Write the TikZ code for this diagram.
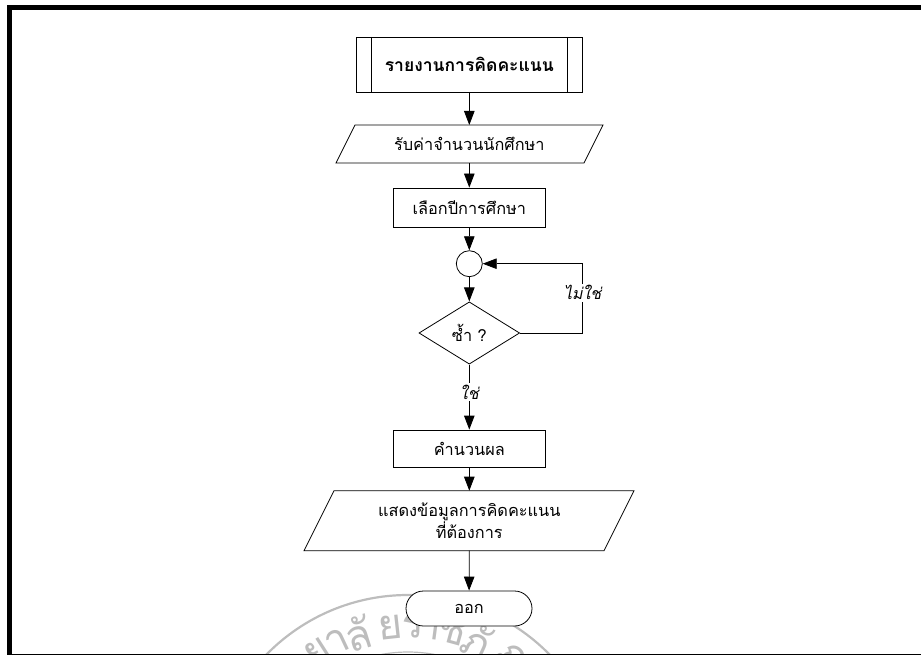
\documentclass[tikz,border=0pt]{standalone}
\usepackage{fontspec}
\usetikzlibrary{arrows.meta,calc,shapes,positioning}
\newfontfamily\thaifont[Script=Thai]{Loma}
\newfontfamily\thaislant[Script=Thai,FakeSlant=0.2]{Loma}
\definecolor{sealgray}{gray}{0.74}
\tikzset{
	every node/.style={font=\thaifont\fontsize{16.3}{21.5}\selectfont,inner sep=0},
	flow/.style={-{Triangle[length=14pt,width=10.5pt]},line width=.8pt},
	plain/.style={line width=.8pt},
	lbl/.style={font=\thaislant\fontsize{16}{21.5}\selectfont,fill=white,inner sep=2}
}
\begin{document}
\begin{tikzpicture}[x=1pt,y=-1pt,line width=.8pt]
\useasboundingbox (0,0) rectangle (921,655);
% frame
\fill (7,5) rectangle (921,10);
\fill (7,5) rectangle (12,655);
\draw[line width=.8pt] (12,654.3) -- (921,654.3);

% seal
\begin{scope}
\clip (12,10) rectangle (921,653.5);
\coordinate (seal) at (408,793);
\draw[sealgray,line width=2.2pt] (seal) circle (198);
\draw[sealgray,line width=1.2pt] (seal) circle (141);
\foreach \ch/\xpos [count=\i] in {ย/318,า/337,ลั/358,ย/390,ร/413,า/430,ช/452,ภั/477,ฏ/509}
	\node[sealgray,rotate={-asin((\xpos-408)/167)},font=\thaifont\fontsize{42}{42}\selectfont] (s\i) at ($(seal)+({\xpos-408},{-167*cos(asin((\xpos-408)/167))})$) {\ch};
\end{scope}

% shapes
\node[font=\thaifont\fontsize{17.5}{21}\selectfont\bfseries] (title) at (469.3,64.5) {รายงานการคิดคะแนน};
\coordinate (t1) at (356,37);
\coordinate (t2) at (582.7,92);
\draw[plain] (t1) rectangle (t2);
\draw[plain] (371.3,37) -- (371.3,92);
\draw[plain] (567.3,37) -- (567.3,92);
\coordinate (titleb) at (469.3,92);

\node (input) at (469.3,144) {รับค่าจำนวนนักศึกษา};
\draw[plain] (355,125) -- (603,125) -- (584,163) -- (336,163) -- cycle;
\coordinate (inputt) at (469.3,125);
\coordinate (inputb) at (469.3,163);

\node[draw,minimum width=151.3,minimum height=39] (year) at (469.3,207.5) {เลือกปีการศึกษา};

\node[draw,circle,minimum size=26] (join) at (469.3,263.7) {};

\node[draw,diamond,minimum width=100.7,minimum height=62.3,aspect=1.6] (dup) at (469.3,333) {ซ้ำ ?};

\node[draw,minimum width=151.3,minimum height=37] (calc) at (469.3,448.5) {คำนวนผล};

\node[align=center] (show) at (469.3,520.7) {แสดงข้อมูลการคิดคะแนน\\ที่ต้องการ};
\draw[plain] (334,490.7) -- (634,490.7) -- (604,550.7) -- (304,550.7) -- cycle;
\coordinate (showt) at (469.3,490.7);
\coordinate (showb) at (469.3,550.7);

\node[draw,fill=white,rounded rectangle,minimum width=126,minimum height=35] (quit) at (469,608.5) {ออก};

% connectors
\draw[flow] (titleb) -- (inputt);
\draw[flow] (inputb) -- (year);
\draw[flow] (year) -- (join);
\draw[flow] (join) -- (dup);
\draw[flow] (dup.south) -- node[lbl,pos=.42] (yes) {ใช่} (calc);
\draw[flow] (calc) -- (showt);
\draw[flow] (showb) -- (quit);
\coordinate (corner1) at (582.7,333);
\coordinate (corner2) at (582.7,263.7);
\draw[flow] (dup.east) -- (corner1) -- node[lbl,pos=.58] (no) {ไม่ใช่} (corner2) -- (join);
\end{tikzpicture}
\end{document}
